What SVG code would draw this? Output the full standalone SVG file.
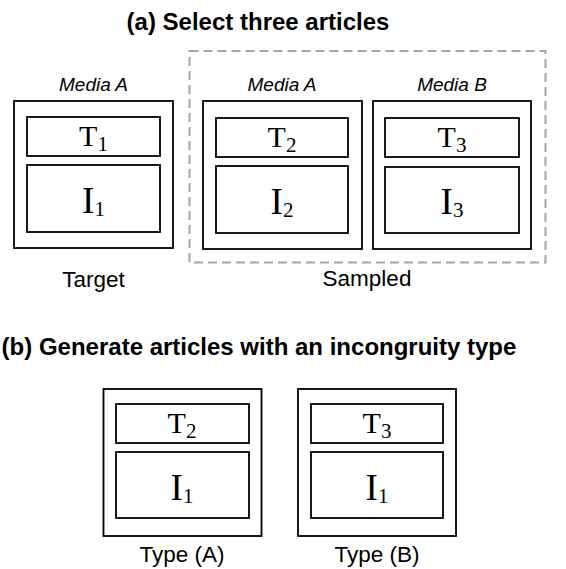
<svg xmlns="http://www.w3.org/2000/svg" width="566" height="569" viewBox="0 0 566 569">
<style>
.box{fill:#fff;stroke:#000;stroke-width:1.8}
.title{font-family:"Liberation Sans",Arial,sans-serif;font-weight:bold;font-size:24px;text-anchor:middle;fill:#000}
.media{font-family:"Liberation Sans",Arial,sans-serif;font-style:italic;font-size:19px;text-anchor:middle;fill:#000}
.cap{font-family:"Liberation Sans",Arial,sans-serif;font-size:22.5px;text-anchor:middle;fill:#000}
.t{font-family:"Liberation Serif","Times New Roman",serif;font-size:30px;text-anchor:middle;fill:#000}
.i{font-family:"Liberation Serif","Times New Roman",serif;font-size:37px;text-anchor:middle;fill:#000}
.sub{font-size:21px}
.dash{fill:none;stroke:#a6a6a6;stroke-width:2;stroke-dasharray:9,5}
</style>
<rect width="566" height="569" fill="#fff"/>
<text class="title" x="258" y="30">(a) Select three articles</text>
<rect class="dash" x="189.5" y="51" width="356" height="211.5"/>
<g id="target">
<text class="media" x="93.5" y="90.5">Media A</text>
<rect class="box" x="14" y="101" width="159" height="147"/>
<rect class="box" x="27" y="117" width="133" height="39"/>
<rect class="box" x="27" y="165" width="133" height="67"/>
<text class="t" x="93.5" y="146">T<tspan class="sub" dy="5">1</tspan></text>
<text class="i" x="93.5" y="213">I<tspan class="sub" dy="3">1</tspan></text>
<text class="cap" x="93.5" y="287">Target</text>
</g>
<g id="sampledA">
<text class="media" x="282" y="90.5">Media A</text>
<rect class="box" x="203" y="101" width="159" height="148"/>
<rect class="box" x="216" y="118" width="132" height="39"/>
<rect class="box" x="216" y="166" width="132" height="67"/>
<text class="t" x="282" y="147">T<tspan class="sub" dy="5">2</tspan></text>
<text class="i" x="282" y="214">I<tspan class="sub" dy="3">2</tspan></text>
</g>
<g id="sampledB">
<text class="media" x="452" y="90.5">Media B</text>
<rect class="box" x="373" y="101" width="158" height="148"/>
<rect class="box" x="385" y="118" width="134" height="39"/>
<rect class="box" x="385" y="167" width="134" height="66"/>
<text class="t" x="452" y="147">T<tspan class="sub" dy="5">3</tspan></text>
<text class="i" x="452" y="214">I<tspan class="sub" dy="3">3</tspan></text>
</g>
<text class="cap" x="367" y="286">Sampled</text>
<text class="title" x="259" y="354.5">(b) Generate articles with an incongruity type</text>
<g id="typeA">
<rect class="box" x="103.5" y="389" width="158" height="147"/>
<rect class="box" x="116" y="404" width="133" height="39"/>
<rect class="box" x="116" y="452" width="133" height="66"/>
<text class="t" x="182" y="433">T<tspan class="sub" dy="5">2</tspan></text>
<text class="i" x="182" y="500">I<tspan class="sub" dy="3">1</tspan></text>
<text class="cap" x="182" y="562">Type (A)</text>
</g>
<g id="typeB">
<rect class="box" x="298" y="389" width="158" height="147"/>
<rect class="box" x="311" y="404" width="132" height="39"/>
<rect class="box" x="311" y="452" width="132" height="66"/>
<text class="t" x="377" y="433">T<tspan class="sub" dy="5">3</tspan></text>
<text class="i" x="377" y="500">I<tspan class="sub" dy="3">1</tspan></text>
<text class="cap" x="377" y="562">Type (B)</text>
</g>
<g id="connectors"></g>
</svg>
